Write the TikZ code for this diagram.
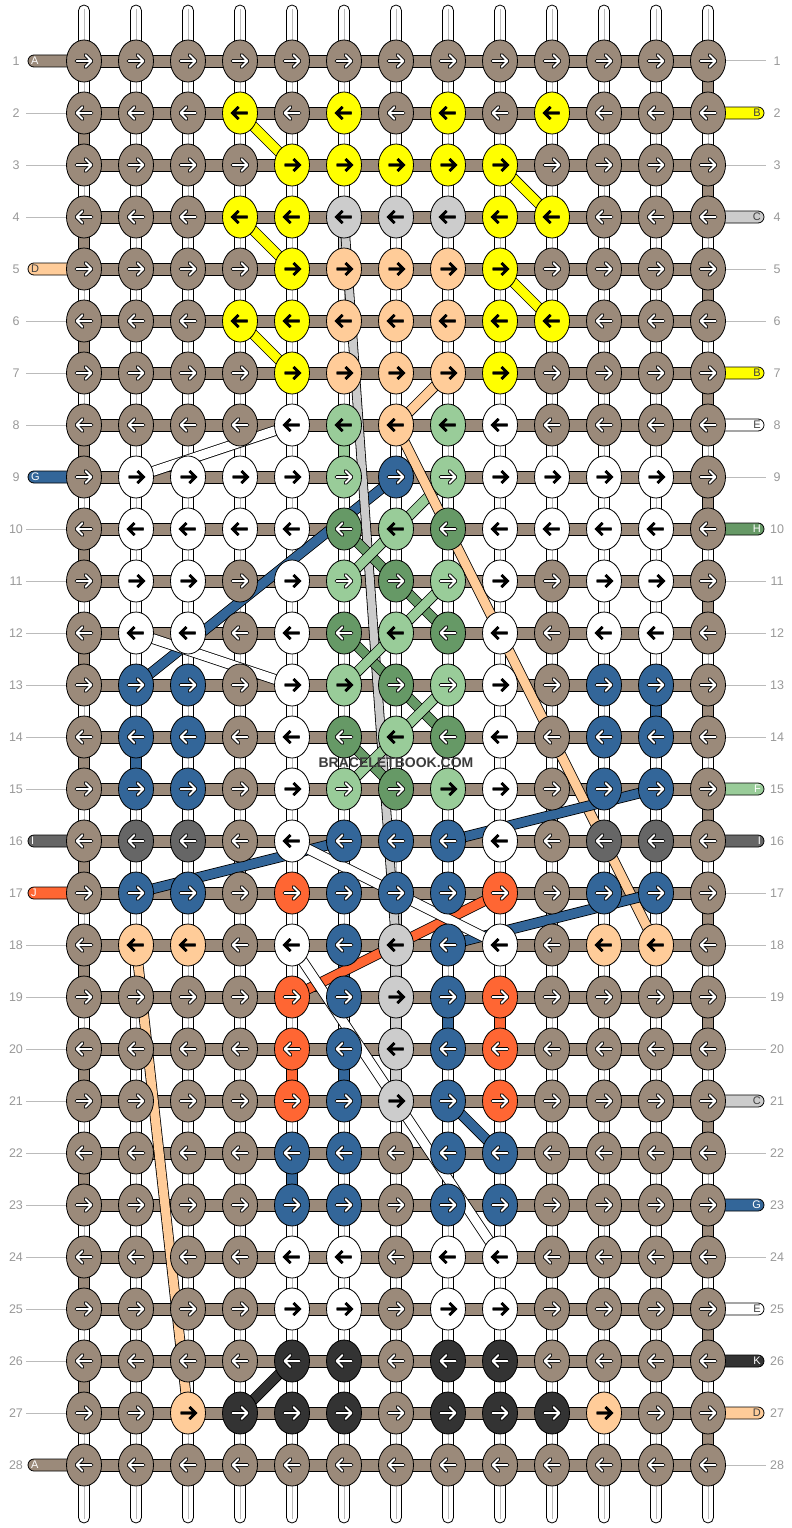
\documentclass[tikz,border=0pt]{standalone}
\usepackage{fontspec}
\setmainfont{Liberation Sans}
\usetikzlibrary{shapes.geometric}
\definecolor{cn}{HTML}{9B8A7A}
\definecolor{cy}{HTML}{FFFF00}
\definecolor{cg}{HTML}{CCCCCC}
\definecolor{cp}{HTML}{FFCC99}
\definecolor{cw}{HTML}{FFFFFF}
\definecolor{cl}{HTML}{99CC99}
\definecolor{cL}{HTML}{99CC99}
\definecolor{cd}{HTML}{669966}
\definecolor{cb}{HTML}{336699}
\definecolor{ck}{HTML}{666666}
\definecolor{co}{HTML}{FF6633}
\definecolor{cx}{HTML}{333333}
\definecolor{numgray}{HTML}{999999}
\definecolor{linegray}{HTML}{BBBBBB}
\definecolor{wmark}{HTML}{3C3C3C}

\newcommand\vseg[3]{% col,row,color
  \draw[seg,fill=#3] ([xshift=-5.5pt]p-#2-#1) rectangle ([xshift=5.5pt,yshift=-52pt]p-#2-#1);}
\newcommand\band[3]{\draw[band,double=#1] (p-#2) -- (p-#3);}
\newcommand\knotrow[2]{%
  \foreach \k [count=\c] in {#2}{%
    \node[knot,k\k] (k-#1-\c) at (p-#1-\c) {};
    \ifodd#1\relax\def\dd{1}\else\def\dd{-1}\fi
    \draw[ao\k,shift={(p-#1-\c)},xscale=\dd] (-7.5,0) -- (7,0) (1.5,-6) -- (7.5,0) -- (1.5,6);
    \draw[ai\k,shift={(p-#1-\c)},xscale=\dd] (-7.5,0) -- (7,0) (1.5,-6) -- (7.5,0) -- (1.5,6);
  }}

\begin{document}
\begin{tikzpicture}[x=1pt,y=-1pt,
  knot/.style={ellipse,draw=black,line width=0.8pt,minimum width=35pt,minimum height=42pt,inner sep=0pt},
  kn/.style={fill=cn}, ky/.style={fill=cy}, kg/.style={fill=cg}, kp/.style={fill=cp},
  kw/.style={fill=cw}, kl/.style={fill=cl}, kL/.style={fill=cL}, kd/.style={fill=cd},
  kb/.style={fill=cb}, kk/.style={fill=ck}, ko/.style={fill=co}, kx/.style={fill=cx},
  ablk/.style={line width=2.6pt,draw=black,line cap=butt,line join=miter},
  aowt/.style={line width=3.6pt,draw=black,line cap=round,line join=round},
  aiwt/.style={line width=2pt,draw=white,line cap=round,line join=round},
  aon/.style={aowt}, ain/.style={aiwt},
  aoy/.style={ablk}, aiy/.style={ablk},
  aog/.style={ablk}, aig/.style={ablk},
  aop/.style={ablk}, aip/.style={ablk},
  aow/.style={ablk}, aiw/.style={ablk},
  aoL/.style={ablk}, aiL/.style={ablk},
  aol/.style={aowt}, ail/.style={aiwt},
  aod/.style={aowt}, aid/.style={aiwt},
  aob/.style={aowt}, aib/.style={aiwt},
  aok/.style={aowt}, aik/.style={aiwt},
  aoo/.style={aowt}, aio/.style={aiwt},
  aox/.style={aowt}, aix/.style={aiwt},
  warp/.style={draw=black,fill=white,line width=0.8pt,rounded corners=5.5pt},
  warpline/.style={draw=linegray,line width=1pt},
  seg/.style={draw=black,line width=0.8pt},
  hbar/.style={draw=black,fill=cn,line width=0.8pt},
  sidebar/.style={draw=black,line width=0.8pt,rounded corners=6pt},
  sidelab/.style={font=\fontsize{11}{11}\selectfont,inner sep=0pt},
  rownum/.style={font=\fontsize{12.5}{12.5}\selectfont,text=numgray,inner sep=0pt},
  gline/.style={draw=linegray,line width=1pt},
  band/.style={draw=black,line width=0.8pt,double distance=9pt}
]
\useasboundingbox (0,0) rectangle (792,1528);
\fill[white] (0,0) rectangle (792,1528);

% grid coordinates
\foreach \r in {1,...,28}{\foreach \c in {1,...,13}{%
  \coordinate (p-\r-\c) at ({84+52*(\c-1)},{61+52*(\r-1)});}}

% warps (vertical strands)
\foreach \c in {1,...,13}{%
  \pgfmathsetmacro\xx{84+52*(\c-1)}
  \draw[warp] (\xx-5.5,5) rectangle (\xx+5.5,1523);
  \draw[warpline] (\xx,9) -- (\xx,1519);
}

% coloured vertical segments
\foreach \r in {2,4,...,26}{\vseg{1}{\r}{cn}}
\foreach \r in {1,3,...,27}{\vseg{13}{\r}{cn}}
\vseg{6}{4}{cg}
\vseg{6}{8}{cl}
\vseg{2}{14}{cb}
\vseg{12}{13}{cb}
\vseg{7}{17}{cg}\vseg{7}{18}{cg}\vseg{7}{19}{cg}\vseg{7}{20}{cg}
\vseg{6}{18}{cb}
\vseg{8}{19}{cb}
\vseg{9}{19}{co}
\vseg{5}{20}{co}
\vseg{6}{20}{cb}
\vseg{5}{22}{cb}

% horizontal bars
\foreach \r in {1,...,28}{%
  \pgfmathsetmacro\yy{61+52*(\r-1)}
  \draw[hbar] (84,\yy-6) rectangle (708,\yy+6);
  \node[rownum] (ln-\r) at (16,\yy) {\r};
  \node[rownum] (rn-\r) at (777,\yy) {\r};
}
% gray guide lines
\foreach \r in {2,3,4,6,7,8,10,11,12,13,14,15,18,19,20,21,22,23,24,25,26,27}{%
  \pgfmathsetmacro\yy{61+52*(\r-1)}
  \draw[gline] (26,\yy) -- (67,\yy);}
\foreach \r in {1,3,5,6,9,11,12,13,14,17,18,19,20,22,24,28}{%
  \pgfmathsetmacro\yy{61+52*(\r-1)}
  \draw[gline] (725,\yy) -- (766,\yy);}
% side strands
\foreach \r/\cc/\t/\tc in {1/cn/A/white,5/cp/D/black!75,9/cb/G/white,16/ck/I/white,17/co/J/white,28/cn/A/white}{%
  \pgfmathsetmacro\yy{61+52*(\r-1)}
  \draw[sidebar,fill=\cc] (28,\yy-6) rectangle (92,\yy+6);
  \node[sidelab,text=\tc,anchor=west] (ll-\r) at (31,\yy) {\t};}
\foreach \r/\cc/\t/\tc in {2/cy/B/black!75,4/cg/C/black!75,7/cy/B/black!75,8/cw/E/black!75,10/cd/H/white,15/cl/F/white,16/ck/I/white,21/cg/C/black!75,23/cb/G/white,25/cw/E/black!75,26/cx/K/white,27/cp/D/black!75}{%
  \pgfmathsetmacro\yy{61+52*(\r-1)}
  \draw[sidebar,fill=\cc] (700,\yy-6) rectangle (764,\yy+6);
  \node[sidelab,text=\tc,anchor=east] (rl-\r) at (761,\yy) {\t};}

% diagonal strands
\band{cb}{9-7}{13-2}
\draw[band,double=cg,double distance=8pt] (p-4-6) -- (p-18-7);
\band{cd}{10-6}{11-7}\band{cl}{10-7}{11-6}
\band{cd}{11-7}{12-8}\band{cl}{11-8}{12-7}
\band{cd}{12-6}{13-7}\band{cl}{12-7}{13-6}
\band{cd}{13-7}{14-8}\band{cl}{13-8}{14-7}
\band{cd}{14-6}{15-7}\band{cl}{14-7}{15-6}
\band{cl}{9-8}{10-7}
\band{cp}{7-8}{8-7}
\band{cp}{8-7}{18-12}
\band{cp}{18-2}{27-3}
\band{cb}{16-6}{17-2}
\band{cb}{16-8}{15-12}
\band{cb}{18-8}{17-12}
\band{cb}{21-8}{22-9}
\band{co}{17-9}{19-5}
\band{cw}{8-5}{9-2}
\band{cw}{12-2}{13-5}
\band{cw}{16-5}{18-9}
\band{cw}{18-5}{24-9}
\band{cy}{2-4}{3-5}
\band{cy}{4-4}{5-5}
\band{cy}{6-4}{7-5}
\band{cy}{3-9}{4-10}
\band{cy}{5-9}{6-10}
\band{cx}{27-4}{26-5}

% knots
\knotrow{1}{n,n,n,n,n,n,n,n,n,n,n,n,n}
\knotrow{2}{n,n,n,y,n,y,n,y,n,y,n,n,n}
\knotrow{3}{n,n,n,n,y,y,y,y,y,n,n,n,n}
\knotrow{4}{n,n,n,y,y,g,g,g,y,y,n,n,n}
\knotrow{5}{n,n,n,n,y,p,p,p,y,n,n,n,n}
\knotrow{6}{n,n,n,y,y,p,p,p,y,y,n,n,n}
\knotrow{7}{n,n,n,n,y,p,p,p,y,n,n,n,n}
\knotrow{8}{n,n,n,n,w,L,p,L,w,n,n,n,n}
\knotrow{9}{n,w,w,w,w,l,b,l,w,w,w,w,n}
\knotrow{10}{n,w,w,w,w,d,L,d,w,w,w,w,n}
\knotrow{11}{n,w,w,n,w,l,d,l,w,n,w,w,n}
\knotrow{12}{n,w,w,n,w,d,L,d,w,n,w,w,n}
\knotrow{13}{n,b,b,n,w,L,d,l,w,n,b,b,n}
\knotrow{14}{n,b,b,n,w,d,L,d,w,n,b,b,n}
\knotrow{15}{n,b,b,n,w,l,d,L,w,n,b,b,n}
\knotrow{16}{n,k,k,n,w,b,b,b,w,n,k,k,n}
\knotrow{17}{n,b,b,n,o,b,b,b,o,n,b,b,n}
\knotrow{18}{n,p,p,n,w,b,g,b,w,n,p,p,n}
\knotrow{19}{n,n,n,n,o,b,g,b,o,n,n,n,n}
\knotrow{20}{n,n,n,n,o,b,g,b,o,n,n,n,n}
\knotrow{21}{n,n,n,n,o,b,g,b,o,n,n,n,n}
\knotrow{22}{n,n,n,n,b,b,n,b,b,n,n,n,n}
\knotrow{23}{n,n,n,n,b,b,n,b,b,n,n,n,n}
\knotrow{24}{n,n,n,n,w,w,n,w,w,n,n,n,n}
\knotrow{25}{n,n,n,n,w,w,n,w,w,n,n,n,n}
\knotrow{26}{n,n,n,n,x,x,n,x,x,n,n,n,n}
\knotrow{27}{n,n,p,x,x,x,n,x,x,x,p,n,n}
\knotrow{28}{n,n,n,n,n,n,n,n,n,n,n,n,n}

\node[font=\bfseries\fontsize{14}{14}\selectfont,text=wmark,inner sep=0pt] (wm) at (396,763) {BRACELETBOOK.COM};
\end{tikzpicture}
\end{document}
